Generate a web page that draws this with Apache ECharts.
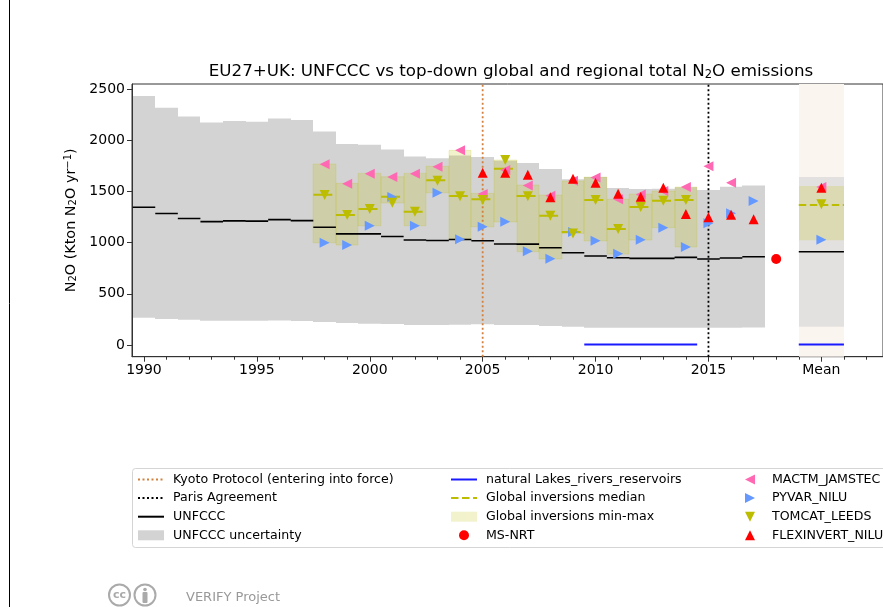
<!DOCTYPE html>
<html>
<head>
<meta charset="utf-8">
<style>
html,body{margin:0;padding:0;background:#fff}
#main{width:883px;height:607px}
</style>
<script src="https://cdn.jsdelivr.net/npm/echarts@6/dist/echarts.min.js"></script>
</head>
<body>
<div id="main"></div>
<script>
var font = 'DejaVu Sans';
var titleParts = ['EU27+UK: UNFCCC vs top-down global and regional total N', '2', 'O emissions'];
var xTicks = [1990,1995,2000,2005,2010,2015,2020];
var xMinorTicks = [1991,1992,1993,1994,1996,1997,1998,1999,2001,2002,2003,2004,2006,2007,2008,2009,2011,2012,2013,2014,2016,2017,2018,2019,2021,2022];
var yTicks = [0,500,1000,1500,2000,2500];
var allYears = [1990,1991,1992,1993,1994,1995,1996,1997,1998,1999,2000,2001,2002,2003,2004,2005,2006,2007,2008,2009,2010,2011,2012,2013,2014,2015,2016,2017];
var invYears = [1998,1999,2000,2001,2002,2003,2004,2005,2006,2007,2008,2009,2010,2011,2012,2013,2014];
var lakeYears = [2010,2011,2012,2013,2014];

var unfccc = [1345,1285,1235,1205,1212,1210,1225,1215,1150,1085,1085,1060,1025,1020,1030,1018,986,985,950,901,869,853,846,846,856,840,850,862];
var unfcccHigh = [2431,2318,2232,2174,2187,2181,2213,2197,2086,1963,1956,1910,1842,1823,1850,1836,1800,1777,1719,1618,1640,1533,1523,1525,1540,1514,1546,1559];
var unfcccLow = [267,254,247,237,237,237,240,235,225,215,208,205,195,195,198,202,195,195,185,179,169,169,169,169,169,169,169,172];

var invMedian = [1468,1270,1328,1448,1302,1608,1455,1423,1722,1455,1263,1103,1416,1133,1348,1409,1416];
var invMax = [1768,1579,1676,1644,1676,1745,1901,1481,1807,1562,1465,1602,1640,1423,1475,1504,1543];
var invMin = [999,976,1165,1387,1165,1487,1032,1155,1201,911,840,1090,1016,888,1025,1146,957];
var lakes = [5,5,5,5,5];

var mactm = [null,null,null,null,null,null,null,null,1765,1575,1673,1640,1673,1741,1901,1475,1709,1559,1458,1604,1637,1423,1471,1504,1543,1745,1585,null];
var pyvar = [null,null,null,null,null,null,null,null,999,976,1165,1445,1165,1487,1032,1155,1204,915,843,1103,1018,892,1029,1146,957,1188,1286,1406];
var tomcat = [null,null,null,null,null,null,null,null,1465,1270,1328,1390,1302,1605,1452,1416,1807,1452,1263,1090,1416,1133,1348,1409,1416,null,null,null];
var flexinvert = [null,null,null,null,null,null,null,null,null,null,null,null,null,null,null,1683,1683,1663,1442,1624,1585,1478,1448,1536,1279,1247,1273,1228];
var msNrt = [[2018,840]];

var meanX = 2020;
var meanUnfccc = 911, meanHigh = 1640, meanLow = 179;
var meanInvMedian = 1367, meanInvMax = 1553, meanInvMin = 1022, meanLakes = 5;
var meanMactm = 1543, meanPyvar = 1029, meanTomcat = 1374, meanFlexinvert = 1536;

var xMin = 1989.47, xMax = 2022.73, yMin = -114, yMax = 2549;

var leftTri = 'path://M0,5L10,0L10,10Z';
var rightTri = 'path://M10,5L0,0L0,10Z';
var downTri = 'path://M5,10L0,0L10,0Z';
var upTri = 'path://M5,0L0,10L10,10Z';

function pairs(xs, vals){
	var out = [];
	for(var i=0;i<xs.length;i++){
		if(vals[i] != null) out.push([xs[i], vals[i]]);
	}
	return out;
}
// one flat step per year, gaps between them
function steps(xs, vals, half){
	var out = [];
	for(var i=0;i<xs.length;i++){
		out.push([xs[i]-half, vals[i]]);
		out.push([xs[i]+half, vals[i]]);
		out.push([xs[i]+half, null]);
	}
	return out;
}
function bands(xs, lo, hi){
	var out = [];
	for(var i=0;i<xs.length;i++) out.push([xs[i], lo[i], hi[i]]);
	return out;
}
function bandSeries(name, data, half, color, z, stroke){
	return {
		name: name, type: 'custom', z: z, silent: true,
		itemStyle: {color: color},
		encode: {x: 0, y: [1, 2]},
		data: data,
		renderItem: function(params, api){
			var a = api.coord([api.value(0)-half, api.value(2)]);
			var b = api.coord([api.value(0)+half, api.value(1)]);
			// snap the year edges so neighbouring bands leave no seam
			var x0 = Math.round(a[0]), x1 = Math.round(b[0]);
			return {
				type: 'rect',
				shape: {x: x0, y: a[1], width: x1-x0, height: b[1]-a[1]},
				style: {fill: color, stroke: stroke || null, lineWidth: 1}
			};
		}
	};
}
function lineSeries(name, data, color, width, type, z){
	return {
		name: name, type: 'line', z: z, symbol: 'none', silent: true, connectNulls: false,
		itemStyle: {color: color},
		lineStyle: {color: color, width: width, type: type},
		data: data
	};
}
function markerSeries(name, data, symbol, color, z){
	return {
		name: name, type: 'scatter', z: z, symbol: symbol, symbolSize: 10, silent: true,
		itemStyle: {color: color, opacity: 1},
		data: data
	};
}

var gold = '#bcbd00';
var goldFill = 'rgba(188,189,0,0.2)';
var goldEdge = 'rgba(188,189,0,0.18)';
var pink = '#ff69b4', blue = '#6699ff', red = '#ff0000';

var series = [
	bandSeries('meanSpan', [[meanX, yMin, yMax]], 1, '#fbf5f0', 1),
	bandSeries('UNFCCC uncertainty', bands(allYears, unfcccLow, unfcccHigh), 0.5, '#d3d3d3', 2),
	bandSeries('UNFCCC uncertainty', [[meanX, meanLow, meanHigh]], 1, 'rgba(211,211,211,0.6)', 2),
	bandSeries('Global inversions min-max', bands(invYears, invMin, invMax), 0.5, goldFill, 3, goldEdge),
	bandSeries('Global inversions min-max', [[meanX, meanInvMin, meanInvMax]], 1, goldFill, 3),
	lineSeries('UNFCCC', steps(allYears, unfccc, 0.5), '#000', 1.6, 'solid', 4),
	lineSeries('UNFCCC', steps([meanX], [meanUnfccc], 1), '#000', 1.6, 'solid', 4),
	lineSeries('natural Lakes_rivers_reservoirs', steps(lakeYears, lakes, 0.5), '#1a1aff', 2, 'solid', 4),
	lineSeries('natural Lakes_rivers_reservoirs', steps([meanX], [meanLakes], 1), '#1a1aff', 2, 'solid', 4),
	lineSeries('Global inversions median', steps([meanX], [meanInvMedian], 1), gold, 2, [7.5,3.5], 5),
	lineSeries('Global inversions median', steps(invYears, invMedian, 0.5), gold, 2, [19,4], 5),
	lineSeries('Kyoto Protocol (entering into force)', [[2005,yMin],[2005,yMax]], '#d2803c', 1.8, [2,2.5], 6),
	lineSeries('Paris Agreement', [[2015,yMin],[2015,yMax]], '#000', 1.8, [2,2.5], 6),
	markerSeries('MACTM_JAMSTEC', pairs(allYears, mactm).concat([[meanX, meanMactm]]), leftTri, pink, 7),
	markerSeries('PYVAR_NILU', pairs(allYears, pyvar).concat([[meanX, meanPyvar]]), rightTri, blue, 8),
	markerSeries('TOMCAT_LEEDS', pairs(allYears, tomcat).concat([[meanX, meanTomcat]]), downTri, gold, 9),
	markerSeries('FLEXINVERT_NILU', pairs(allYears, flexinvert).concat([[meanX, meanFlexinvert]]), upTri, red, 10),
	markerSeries('MS-NRT', msNrt, 'circle', red, 10)
];

// the line legend icon always adds a symbol, so hide it
function lineItem(name){ return {name: name, itemStyle: {opacity: 0}}; }
function legendCol(left, items){
	return {
		orient: 'vertical', left: left, top: 473, itemWidth: 26, itemHeight: 10, itemGap: 5.6,
		padding: 0, selectedMode: false,
		textStyle: {fontFamily: font, fontSize: 12.6, color: '#000', padding: [0,0,0,4], lineHeight: 12},
		data: items
	};
}

var chart = echarts.init(document.getElementById('main'), null, {renderer: 'canvas'});
chart.setOption({
	animation: false,
	backgroundColor: '#fff',
	title: {
		left: 511, top: 63, textAlign: 'center', padding: 0,
		text: '{t|' + titleParts[0] + '}{s|' + titleParts[1] + '}{t|' + titleParts[2] + '}',
		textStyle: {
			fontWeight: 'normal',
			rich: {
				t: {fontFamily: font, fontSize: 16.7, fontWeight: 'normal', color: '#000'},
				s: {fontFamily: font, fontSize: 11.5, fontWeight: 'normal', color: '#000', verticalAlign: 'bottom', padding: [6,0,0,0]}
			}
		}
	},
	grid: {left: 132, top: 84, right: 0, height: 272.7, show: true, borderColor: '#333', borderWidth: 1, backgroundColor: 'transparent'},
	xAxis: [{
		type: 'value', min: xMin, max: xMax,
		splitLine: {show: false},
		axisLine: {show: true, onZero: false, lineStyle: {color: '#333'}},
		axisTick: {show: true, length: 5, lineStyle: {color: '#333'}, customValues: xTicks},
		axisLabel: {
			customValues: xTicks, margin: 7, color: '#000', fontFamily: font, fontSize: 14, showMinLabel: true, showMaxLabel: true,
			formatter: function(v){ return v === meanX ? 'Mean' : String(v); }
		}
	},{
		type: 'value', min: xMin, max: xMax, position: 'bottom',
		splitLine: {show: false},
		axisLine: {show: false, onZero: false},
		axisTick: {show: true, length: 3, lineStyle: {color: '#333'}, customValues: xMinorTicks},
		axisLabel: {show: false}
	}],
	yAxis: {
		type: 'value', min: yMin, max: yMax,
		splitLine: {show: false},
		axisLine: {show: true, onZero: false, lineStyle: {color: '#333'}},
		axisTick: {show: true, length: 5, lineStyle: {color: '#333'}, customValues: yTicks},
		axisLabel: {customValues: yTicks, margin: 7, color: '#000', fontFamily: font, fontSize: 14, formatter: function(v){ return String(v); }},
		name: '{t|N}{s|2}{t|O (Kton N}{s|2}{t|O yr}{p|−1}{t|)}',
		nameLocation: 'middle', nameGap: 37, nameRotate: 90,
		nameTextStyle: {
			rich: {
				t: {fontFamily: font, fontSize: 14.4, color: '#000'},
				s: {fontFamily: font, fontSize: 10, color: '#000', verticalAlign: 'bottom', padding: [5,0,0,0]},
				p: {fontFamily: font, fontSize: 10, color: '#000', verticalAlign: 'top', padding: [0,0,5,0]}
			}
		}
	},
	legend: [
		legendCol(137, [lineItem('Kyoto Protocol (entering into force)'),lineItem('Paris Agreement'),lineItem('UNFCCC'),{name:'UNFCCC uncertainty',icon:'rect'}]),
		legendCol(450, [lineItem('natural Lakes_rivers_reservoirs'),lineItem('Global inversions median'),{name:'Global inversions min-max',icon:'rect'},{name:'MS-NRT'}]),
		legendCol(745, [{name:'MACTM_JAMSTEC'},{name:'PYVAR_NILU'},{name:'TOMCAT_LEEDS'},{name:'FLEXINVERT_NILU'}])
	],
	graphic: [
		{type:'line', silent:true, shape:{x1:9.5,y1:0,x2:9.5,y2:607}, style:{stroke:'#000',lineWidth:1}},
		{type:'rect', silent:true, z:-1, shape:{x:132.5,y:468.5,width:780,height:79,r:3}, style:{fill:'#fff',stroke:'#d5d5d5',lineWidth:1}},
		{type:'circle', silent:true, shape:{cx:119.5,cy:595,r:10.5}, style:{fill:'#fff',stroke:'#aaa',lineWidth:2}},
		{type:'text', silent:true, style:{x:119.5,y:595,text:'cc',fill:'#aaa',font:'bold 11px "DejaVu Sans"',align:'center',verticalAlign:'middle'}},
		{type:'circle', silent:true, shape:{cx:145,cy:595,r:10.5}, style:{fill:'#fff',stroke:'#aaa',lineWidth:2}},
		{type:'circle', silent:true, shape:{cx:145,cy:589.5,r:1.8}, style:{fill:'#aaa'}},
		{type:'rect', silent:true, shape:{x:142.5,y:592,width:5,height:11,r:1}, style:{fill:'#aaa'}},
		{type:'text', silent:true, style:{x:186,y:598,text:'VERIFY Project',fill:'#999',font:'13px "DejaVu Sans"',align:'left',verticalAlign:'middle'}}
	],
	series: series
});
</script>
</body>
</html>
